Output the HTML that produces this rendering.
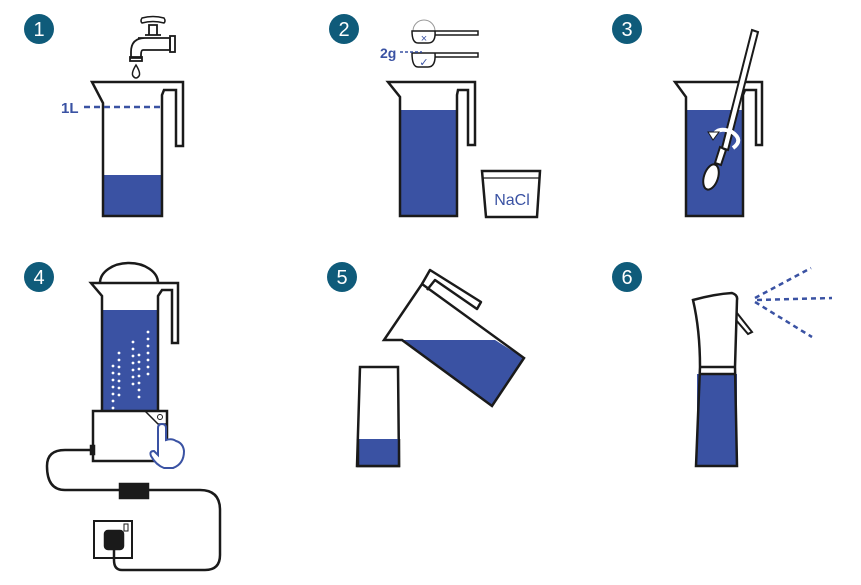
<!DOCTYPE html>
<html><head><style>
html,body{margin:0;padding:0;background:#fff;}
svg{display:block;}
text{font-family:"Liberation Sans",sans-serif;}
</style></head><body>
<svg width="861" height="585" viewBox="0 0 861 585" xmlns="http://www.w3.org/2000/svg">
<g fill="#0f5b7a">
<circle cx="39" cy="29" r="15"/><circle cx="344" cy="29" r="15"/><circle cx="627" cy="29" r="15"/>
<circle cx="39" cy="277" r="15"/><circle cx="342" cy="277" r="15"/><circle cx="627" cy="277" r="15"/>
</g>
<g fill="#fff" font-size="20" text-anchor="middle">
<text x="39" y="36">1</text><text x="344" y="36">2</text><text x="627" y="36">3</text>
<text x="39" y="284">4</text><text x="342" y="284">5</text><text x="627" y="284">6</text>
</g>

<g stroke="#1a1a1a" stroke-width="2.5" fill="none" stroke-linejoin="miter">
<rect x="103" y="175" width="59" height="41" fill="#3a52a3" stroke="none"/>
<path d="M103 216 V103 L92 82 H183 V146 H176 V90 H164 L162 95 V216 Z"/>
<path d="M142 18 Q153 15 164 18 Q166 21 164 23 Q153 20 142 23 Q140 21 142 18Z" stroke-width="1.5"/>
<path d="M149 25 h8 v10 h-8 z M145 35 h16 M138 38 H170 V50 H143 Q141 50 141 55 V58 H131 V52 Q131 38 145 38" stroke-width="1.8"/>
<rect x="170" y="36" width="5" height="16" stroke-width="1.8"/>
<rect x="130" y="57" width="12" height="4" stroke-width="1.8"/>
<path d="M136 65 Q131 73 133 76 Q136 80 139 76 Q141 73 136 65Z" stroke-width="1.5"/>
</g>
<line x1="84" y1="107" x2="162" y2="107" stroke="#3a52a3" stroke-width="2.5" stroke-dasharray="6 4"/>
<text x="61" y="113" font-size="15" font-weight="bold" fill="#3a52a3">1L</text>

<rect x="400" y="110" width="57" height="106" fill="#3a52a3"/>
<g stroke="#1a1a1a" stroke-width="2.5" fill="none">
<path d="M400 216 V97 L388 82 H475 V145 H468 V90 H458 L457 95 V216 Z"/>
<path d="M413 31 A11 11 0 0 1 435 31" stroke="#999" stroke-width="1"/>
<path d="M412 31 H435 Q436 43 428 43 H418 Q412 43 412 31Z M435 31 H478 V35 H435" stroke-width="1.5"/>
<path d="M412 53 H435 Q436 67 428 67 H418 Q412 67 412 53Z M435 53 H478 V57 H435" stroke-width="1.5"/>
<path d="M482 171 H540 L537 217 H486 Z"/>
<line x1="483" y1="178" x2="539" y2="178" stroke-width="1.2"/>
</g>
<text x="424" y="42" font-size="11" fill="#3a52a3" text-anchor="middle">×</text>
<text x="424" y="66" font-size="11" fill="#3a52a3" text-anchor="middle">✓</text>
<line x1="400" y1="52" x2="422" y2="52" stroke="#3a52a3" stroke-width="1.5" stroke-dasharray="3 2"/>
<text x="380" y="58" font-size="14" font-weight="bold" fill="#3a52a3">2g</text>
<text x="512" y="205" font-size="16" fill="#3a52a3" text-anchor="middle">NaCl</text>

<rect x="686" y="110" width="57" height="106" fill="#3a52a3"/>
<g stroke="#1a1a1a" stroke-width="2.5" fill="none">
<path d="M686 216 V97 L675 82 H762 V145 H756 V90 H745 L743 95 V216 Z"/>
<path d="M752 30 L758 32 L728 150 L722 148 Z" fill="#fff" stroke-width="2"/>
<path d="M720 147 L726 150 L721 165 L715 163 Z" fill="#fff" stroke-width="2"/>
<ellipse cx="711" cy="177" rx="7" ry="13" transform="rotate(18 711 177)" fill="#fff" stroke-width="2"/>
<path d="M733 148 Q744 140 732 132 Q718 126 713 136" stroke="#fff" stroke-width="4"/>
<path d="M708 132 L713 140 L719 132 Z" fill="#fff" stroke="#1a1a1a" stroke-width="1"/>
</g>

<rect x="102" y="310" width="56" height="101" fill="#3a52a3"/>
<g fill="#fff">
<circle cx="113" cy="366" r="1.4"/><circle cx="113" cy="373" r="1.4"/><circle cx="113" cy="380" r="1.4"/><circle cx="113" cy="387" r="1.4"/><circle cx="113" cy="394" r="1.4"/><circle cx="113" cy="401" r="1.4"/><circle cx="113" cy="408" r="1.4"/>
<circle cx="119" cy="353" r="1.4"/><circle cx="119" cy="360" r="1.4"/><circle cx="119" cy="367" r="1.4"/><circle cx="119" cy="374" r="1.4"/><circle cx="119" cy="381" r="1.4"/><circle cx="119" cy="388" r="1.4"/><circle cx="119" cy="395" r="1.4"/>
<circle cx="133" cy="342" r="1.4"/><circle cx="133" cy="349" r="1.4"/><circle cx="133" cy="356" r="1.4"/><circle cx="133" cy="363" r="1.4"/><circle cx="133" cy="370" r="1.4"/><circle cx="133" cy="377" r="1.4"/><circle cx="133" cy="384" r="1.4"/>
<circle cx="139" cy="355" r="1.4"/><circle cx="139" cy="362" r="1.4"/><circle cx="139" cy="369" r="1.4"/><circle cx="139" cy="376" r="1.4"/><circle cx="139" cy="383" r="1.4"/><circle cx="139" cy="390" r="1.4"/><circle cx="139" cy="397" r="1.4"/>
<circle cx="148" cy="332" r="1.4"/><circle cx="148" cy="339" r="1.4"/><circle cx="148" cy="346" r="1.4"/><circle cx="148" cy="353" r="1.4"/><circle cx="148" cy="360" r="1.4"/><circle cx="148" cy="367" r="1.4"/><circle cx="148" cy="374" r="1.4"/>
</g>
<g stroke="#1a1a1a" stroke-width="2.5" fill="none">
<path d="M100 283 A29 20 0 0 1 158 283"/>
<path d="M102 411 V296 L91 283 H178 V343 H172 V290 H162 L158 296 V411"/>
<rect x="93" y="411" width="74" height="50" fill="#fff"/>
<path d="M145 411 L158 424 H167" stroke-width="1.5"/>
<circle cx="160" cy="417" r="2.5" stroke-width="1"/>
<path d="M93 450 H65 Q47 450 47 466 Q47 490 65 490 H200 Q220 490 220 510 V555 Q220 570 205 570 H122 Q114 570 114 560 V545"/>
<rect x="120" y="484" width="28" height="14" fill="#1a1a1a"/>
<rect x="94" y="521" width="38" height="37" stroke-width="2"/>
<rect x="105" y="531" width="18" height="18" rx="3" fill="#1a1a1a"/>
<rect x="124" y="524" width="4" height="7" stroke-width="1"/>
<rect x="91" y="446" width="3" height="8" fill="#1a1a1a"/>
</g>
<path d="M162 424 Q166 424 166 428 V440 Q172 438 176 441 Q183 443 184 451 Q184 464 173 468 H164 Q156 465 151 456 Q149 451 154 451 L158 455 V428 Q158 424 162 424Z" fill="#fff" stroke="#3a52a3" stroke-width="2"/>

<g stroke="#1a1a1a" stroke-width="2.5" fill="none">
<path d="M402 340 H495 L524 358 L492 406 Z" fill="#3a52a3" stroke="none"/>
<path d="M384 340 H402 L492 406 L524 358 L422 284 Z"/>
<path d="M422 284 L430 270 L481 302 L477 309 L435 280 L427 290" stroke-linejoin="round"/>
<path d="M360 367 H398 L399 466 H357 Z"/>
</g>
<rect x="358.5" y="439" width="39.5" height="26" fill="#3a52a3"/>
<path d="M358 439 V466 H399 V439" stroke="#1a1a1a" stroke-width="2.5" fill="none"/>

<rect x="697" y="374" width="40" height="92" fill="#3a52a3"/>
<g stroke="#1a1a1a" stroke-width="2.5" fill="none">
<path d="M696 466 L700 367 Q700 330 693 300 Q715 294 732 293 Q738 295 737 300 L735 367 L737 466 Z"/>
<line x1="700" y1="367" x2="735" y2="367"/>
<line x1="699" y1="374" x2="736" y2="374"/>
<path d="M737 313 L752 332 L748 334 L736 320" stroke-width="2"/>
</g>
<g stroke="#3a52a3" stroke-width="2.5" stroke-dasharray="5 4" fill="none">
<line x1="755" y1="298" x2="811" y2="268"/>
<line x1="757" y1="300" x2="832" y2="298"/>
<line x1="755" y1="302" x2="812" y2="337"/>
</g>
</svg>
</body></html>
